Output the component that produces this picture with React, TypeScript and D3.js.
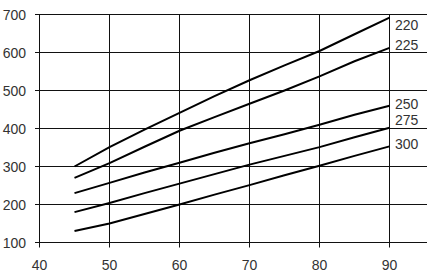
import React from "react";
import * as d3 from "d3";

const xValues = [45, 50, 55, 60, 65, 70, 75, 80, 85, 90];
const seriesNames = ["220", "225", "250", "275", "300"];
const s220 = [300, 351, 397, 441, 485, 527, 566, 604, 648, 692];
const s225 = [270, 309, 352, 394, 430, 465, 500, 537, 577, 612];
const s250 = [230, 257, 284, 310, 336, 361, 385, 410, 436, 460];
const s275 = [180, 204, 230, 255, 280, 305, 328, 351, 377, 402];
const s300 = [130, 150, 175, 200, 226, 251, 277, 302, 328, 353];
const seriesValues = [s220, s225, s250, s275, s300];
const xTicks = [40, 50, 60, 70, 80, 90];
const yTicks = [100, 200, 300, 400, 500, 600, 700];

const W = 427;
const H = 273;
const labelDy = [12, 2, 3, -3, 2.5];

export default function App() {
  const x = d3.scaleLinear().domain([40, 90]).range([39.5, 389.5]);
  const y = d3.scaleLinear().domain([100, 700]).range([242.5, 14.5]);
  const line = d3
    .line<number>()
    .x((_, i) => x(xValues[i]))
    .y((d) => y(d));
  const font = "Arial, 'Liberation Sans', sans-serif";
  const textColor = "#333";
  return (
    <svg
      width={W}
      height={H}
      style={{ position: "absolute", left: 0, top: 0, background: "#fff" }}
    >
      <rect x={0} y={0} width={W} height={H} fill="#fff" />
      {yTicks.map((t) => (
        <g key={"y" + t}>
          <line x1={35} x2={W} y1={y(t)} y2={y(t)} stroke="#111" strokeWidth={1} />
          <text
            x={26}
            y={y(t)}
            dy="0.36em"
            textAnchor="end"
            fontFamily={font}
            fontSize={14}
            fill={textColor}
          >
            {t}
          </text>
        </g>
      ))}
      {xTicks.map((t) => (
        <g key={"x" + t}>
          <line x1={x(t)} x2={x(t)} y1={y(700)} y2={y(100) + 5} stroke="#111" strokeWidth={1} />
          <text
            x={x(t)}
            y={269.5}
            textAnchor="middle"
            fontFamily={font}
            fontSize={14}
            fill={textColor}
          >
            {t}
          </text>
        </g>
      ))}
      {seriesValues.map((vals, i) => (
        <g key={seriesNames[i]}>
          <path d={line(vals) || ""} fill="none" stroke="#000" strokeWidth={2} />
          <text
            x={x(90) + 5.5}
            y={y(vals[vals.length - 1]) + labelDy[i]}
            fontFamily={font}
            fontSize={14}
            fill={textColor}
          >
            {seriesNames[i]}
          </text>
        </g>
      ))}
    </svg>
  );
}
